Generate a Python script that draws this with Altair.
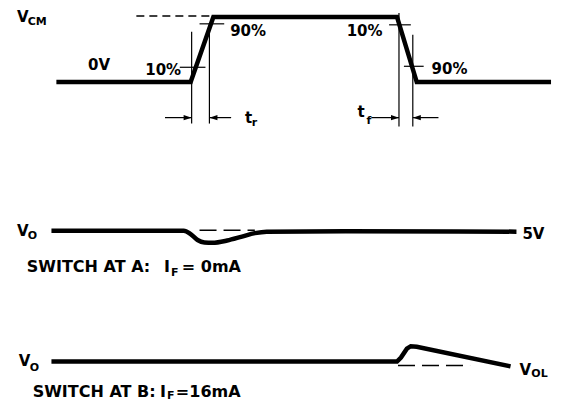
import altair as alt
import pandas as pd

# ---- waveform data (diagram units: time -> x, level -> y, y grows downward) ----
vcm_t = [57, 193, 216, 402, 422, 558]
vcm_v = [80, 80, 14, 14, 80, 80]

voa_t = [52, 150, 186, 193, 200, 207, 215, 230, 245, 258, 270, 350, 523]
voa_v = [230.5, 230.5, 230.5, 234, 240, 242.5, 242.8, 240.5, 236.5, 233, 231.5, 231, 231.5]

vob_t = [52, 300, 402, 406, 412, 416, 422, 517]
vob_v = [363, 363, 363, 359, 350, 347.5, 348, 368]

# dashed reference levels
dash_top_x = [138]; dash_top_x2 = [214]; dash_top_y = [13]
dash_lo_x = [202, 403]; dash_lo_x2 = [258, 476]; dash_lo_y = [230, 367]

# thin vertical markers
vert_x = [194, 212, 404, 418]
vert_y1 = [29, 21, 10, 32]
vert_y2 = [122, 122, 125, 125]

# 10% / 90% ticks and arrow shafts
hr_x = [182, 202, 394, 409, 167, 212, 376, 418]
hr_x2 = [208, 227, 416, 429, 194, 234, 404, 444]
hr_y = [65, 21, 22, 64, 116, 116, 116, 116]

# arrow heads
ah_x = [194, 212, 404, 418]
ah_y = [116, 116, 116, 116]
ah_dir = ["right", "left", "right", "left"]

# labels
big_text = ["0V", "10%", "90%", "10%", "90%", "5V", "V", "V", "V", "V", "t", "t"]
big_x = [89, 147, 233, 351, 437, 529, 17, 17, 19, 526, 248, 362]
big_y = [68, 73, 33, 33, 72, 239, 19, 236, 368, 377, 121, 115]

sub_text = ["CM", "O", "O", "OL", "r", "f", "F", "F"]
sub_x = [28, 28, 30, 538, 255, 371, 173, 169]
sub_y = [22, 239, 373, 379, 124, 122, 276, 401]

sw_text = ["SWITCH AT A:", "I", "= 0mA", "SWITCH AT B:", "I", "=16mA"]
sw_x = [27, 166, 184, 33, 162, 178]
sw_y = [272, 272, 272, 399, 399, 399]

X = alt.Scale(domain=[8, 560], nice=False, zero=False)
Y = alt.Scale(domain=[8, 401], nice=False, zero=False, reverse=True)
INK = "#000000"
FONT = "DejaVu Sans"


def wave(t, v, interp):
    df = pd.DataFrame({"t": t, "v": v})
    return alt.Chart(df).mark_line(
        color=INK, strokeWidth=4.5, interpolate=interp, strokeCap="butt", strokeJoin="miter"
    ).encode(x=alt.X("t:Q", scale=X, axis=None), y=alt.Y("v:Q", scale=Y, axis=None))


w1 = wave(vcm_t, vcm_v, "linear")
w2 = wave(voa_t, voa_v, "monotone")
w3 = wave(vob_t, vob_v, "linear")

d1 = alt.Chart(pd.DataFrame({"x": dash_top_x, "x2": dash_top_x2, "y": dash_top_y})).mark_rule(
    color=INK, strokeWidth=1.5, strokeDash=[8, 5]
).encode(x=alt.X("x:Q", scale=X, axis=None), x2="x2:Q", y=alt.Y("y:Q", scale=Y, axis=None))

d2 = alt.Chart(pd.DataFrame({"x": dash_lo_x, "x2": dash_lo_x2, "y": dash_lo_y})).mark_rule(
    color=INK, strokeWidth=1.6, strokeDash=[17, 7]
).encode(x=alt.X("x:Q", scale=X, axis=None), x2="x2:Q", y=alt.Y("y:Q", scale=Y, axis=None))

vr = alt.Chart(pd.DataFrame({"x": vert_x, "y": vert_y1, "y2": vert_y2})).mark_rule(
    color=INK, strokeWidth=1.2
).encode(x=alt.X("x:Q", scale=X, axis=None), y=alt.Y("y:Q", scale=Y, axis=None), y2="y2:Q")

hr = alt.Chart(pd.DataFrame({"x": hr_x, "x2": hr_x2, "y": hr_y})).mark_rule(
    color=INK, strokeWidth=1.2
).encode(x=alt.X("x:Q", scale=X, axis=None), x2="x2:Q", y=alt.Y("y:Q", scale=Y, axis=None))

path_r = "M0,0L-2,-0.65L-2,0.65Z"
path_l = "M0,0L2,-0.65L2,0.65Z"
heads = alt.Chart(pd.DataFrame({"x": ah_x, "y": ah_y, "d": ah_dir})).mark_point(
    filled=True, color=INK, opacity=1, size=64, strokeWidth=0
).encode(
    x=alt.X("x:Q", scale=X, axis=None),
    y=alt.Y("y:Q", scale=Y, axis=None),
    shape=alt.Shape("d:N", scale=alt.Scale(domain=["right", "left"], range=[path_r, path_l]), legend=None),
)


def labels(txt, xs, ys, size):
    df = pd.DataFrame({"s": txt, "x": xs, "y": ys})
    return alt.Chart(df).mark_text(
        align="left", baseline="alphabetic", font=FONT, fontWeight="bold", fontSize=size, color=INK
    ).encode(x=alt.X("x:Q", scale=X, axis=None), y=alt.Y("y:Q", scale=Y, axis=None), text="s:N")


t1 = labels(big_text, big_x, big_y, 15)
t2 = labels(sub_text, sub_x, sub_y, 11)
t3 = labels(sw_text, sw_x, sw_y, 16)

chart = alt.layer(w1, w2, w3, d1, d2, vr, hr, heads, t1, t2, t3).properties(
    width=552, height=393, padding=0,
    autosize=alt.AutoSizeParams(type="fit", contains="padding"),
    background="white",
).configure_view(stroke=None)

chart.save("out.html", embed_options={"renderer": "svg", "actions": False})
